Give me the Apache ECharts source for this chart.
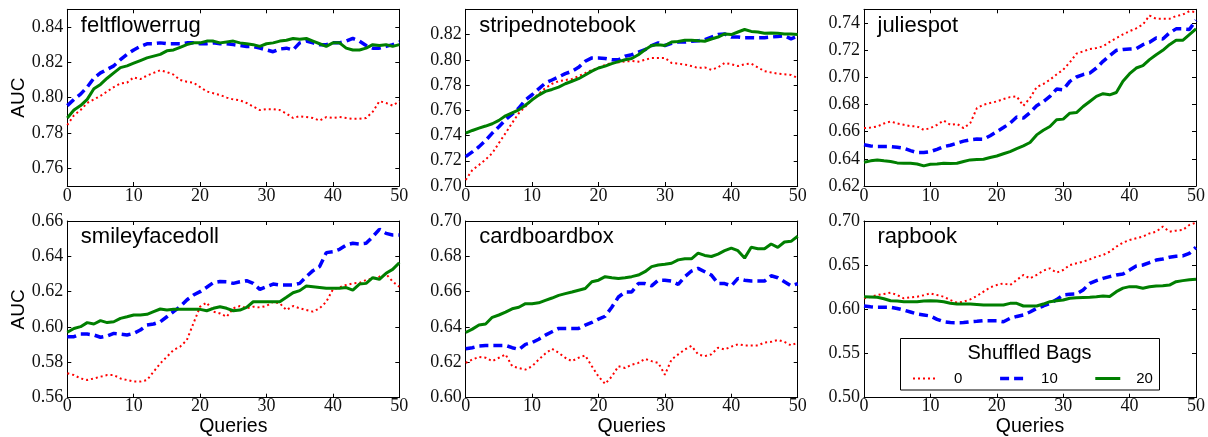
<!DOCTYPE html>
<html>
<head>
<meta charset="utf-8">
<script src="https://cdn.jsdelivr.net/npm/echarts@6/dist/echarts.min.js"></script>
<style>
html,body{margin:0;padding:0;background:#fff;}
#chart{width:1208px;height:437px;}
</style>
</head>
<body>
<div id="chart"></div>
<script>
// ---------------- data ----------------
const queries = [0,1,2,3,4,5,6,7,8,9,10,11,12,13,14,15,16,17,18,19,20,21,22,23,24,25,26,27,28,29,30,31,32,33,34,35,36,37,38,39,40,41,42,43,44,45,46,47,48,49,50];
const xTicks = [0,10,20,30,40,50];
const seriesNames = ['0','10','20'];
const panelNames = ['feltflowerrug','stripednotebook','juliespot','smileyfacedoll','cardboardbox','rapbook'];
const yMins = [0.75,0.70,0.62,0.56,0.60,0.50];
const yMaxs = [0.85,0.84,0.75,0.66,0.70,0.70];
const yTicks = [
  [0.76,0.78,0.80,0.82,0.84],
  [0.70,0.72,0.74,0.76,0.78,0.80,0.82],
  [0.62,0.64,0.66,0.68,0.70,0.72,0.74],
  [0.56,0.58,0.60,0.62,0.64,0.66],
  [0.60,0.62,0.64,0.66,0.68,0.70],
  [0.50,0.55,0.60,0.65,0.70]
];
const yAxisTitle = 'AUC';
const xAxisTitle = 'Queries';
const legendTitle = 'Shuffled Bags';

const feltflowerrug0 = [.7845,.790,.793,.797,.799,.801,.8035,.806,.808,.8085,.8115,.8105,.8125,.814,.8155,.8145,.813,.810,.809,.8085,.806,.8035,.8025,.8015,.800,.799,.7985,.797,.795,.793,.7935,.7935,.793,.791,.7885,.7895,.789,.7885,.787,.789,.7885,.789,.7885,.788,.788,.7885,.792,.798,.797,.7955,.798];
const feltflowerrug10 = [.7955,.799,.802,.806,.811,.814,.816,.818,.8215,.8245,.827,.829,.8305,.8305,.831,.8305,.8305,.8305,.831,.831,.8305,.8305,.831,.8305,.8305,.830,.8295,.829,.829,.828,.827,.826,.8275,.828,.827,.831,.832,.831,.830,.830,.831,.831,.832,.8335,.832,.8295,.828,.828,.829,.830,.8315];
const feltflowerrug20 = [.7885,.793,.7955,.799,.805,.8075,.811,.814,.817,.818,.8195,.821,.8225,.8235,.8245,.8265,.827,.8285,.830,.831,.831,.832,.832,.831,.8315,.832,.831,.8305,.830,.829,.8305,.831,.832,.8325,.8335,.833,.8335,.832,.8305,.829,.831,.831,.828,.827,.827,.828,.830,.8295,.830,.829,.830];

const stripednotebook0 = [.7048,.7127,.7167,.721,.726,.734,.7419,.750,.7577,.763,.7683,.773,.7776,.781,.783,.784,.7848,.787,.7895,.792,.7935,.796,.7975,.798,.7988,.799,.7985,.800,.8015,.8015,.8015,.7975,.797,.7962,.795,.7935,.794,.792,.794,.7975,.7965,.795,.7965,.797,.794,.791,.790,.789,.7885,.788,.7856];
const stripednotebook10 = [.7233,.727,.7311,.736,.7419,.747,.7525,.757,.7617,.7683,.7723,.777,.7816,.784,.7864,.789,.7909,.794,.7988,.8015,.8015,.801,.800,.800,.8028,.804,.806,.808,.8113,.8134,.8113,.813,.814,.814,.8147,.815,.816,.818,.820,.8205,.818,.818,.8174,.8175,.8174,.8175,.818,.8185,.819,.8166,.8187];
const stripednotebook20 = [.7419,.744,.7458,.7475,.7493,.752,.7556,.758,.7604,.764,.7683,.772,.775,.7765,.7784,.781,.783,.785,.788,.791,.7935,.795,.797,.7985,.800,.801,.804,.808,.8113,.812,.8113,.814,.8145,.8155,.8155,.815,.8147,.8165,.818,.8205,.820,.822,.824,.8225,.822,.821,.8213,.821,.8205,.8205,.820];

const juliespot0 = [.6626,.663,.6638,.666,.6675,.666,.665,.664,.6638,.6613,.6626,.665,.6682,.665,.6657,.6626,.6662,.6773,.6798,.681,.6822,.684,.6854,.6859,.679,.6847,.6928,.695,.6982,.702,.7056,.711,.7174,.719,.7208,.7215,.7228,.726,.7289,.7315,.7339,.736,.7388,.7454,.743,.743,.743,.745,.7461,.7486,.7479];
const juliespot10 = [.6503,.6495,.649,.649,.649,.6485,.6478,.646,.6446,.6446,.6453,.647,.649,.650,.6515,.653,.654,.6545,.6544,.657,.660,.663,.6662,.6707,.670,.674,.679,.682,.6859,.6913,.6908,.697,.7002,.702,.7031,.7068,.7117,.7159,.7198,.7205,.7208,.721,.724,.7257,.7289,.7282,.7326,.7356,.7356,.7351,.742];
const juliespot20 = [.6375,.6385,.6392,.6385,.638,.637,.6367,.6368,.6362,.6348,.636,.6362,.6367,.6365,.6367,.638,.6392,.6395,.6397,.641,.6421,.6437,.6453,.6475,.6495,.652,.6576,.661,.6638,.6687,.6692,.6736,.674,.6785,.6822,.6859,.6879,.6871,.6888,.697,.7026,.7068,.7085,.713,.7166,.7198,.724,.7272,.7272,.7314,.7356];

const smileyfacedoll0 = [.5738,.5728,.5709,.570,.5709,.5719,.5728,.5728,.5709,.570,.5691,.5691,.570,.5747,.5794,.5832,.587,.5889,.5926,.6021,.6115,.6138,.6087,.6077,.6058,.6106,.6119,.6106,.6115,.6111,.6119,.6143,.6134,.6096,.6119,.6106,.6096,.6087,.6106,.6143,.6213,.6225,.6238,.6247,.625,.6266,.6275,.6285,.630,.6257,.6228];
const smileyfacedoll10 = [.5945,.5945,.596,.596,.5955,.5942,.5949,.5964,.596,.5955,.5964,.5983,.6011,.6017,.603,.6058,.6087,.6115,.6153,.6181,.620,.6225,.6251,.6258,.6256,.6247,.6256,.6262,.6247,.6213,.6228,.6243,.6238,.6238,.6238,.6247,.6285,.6319,.6342,.6421,.6426,.644,.6464,.6474,.647,.6474,.6511,.6553,.653,.6521,.6521];
const smileyfacedoll20 = [.597,.5992,.6002,.6025,.6017,.6036,.6025,.603,.6049,.6058,.6068,.6068,.6072,.6087,.6102,.6096,.610,.610,.610,.610,.610,.6092,.6106,.6115,.6106,.6092,.6096,.6111,.6143,.6143,.6143,.6143,.6143,.6168,.6194,.6206,.6232,.6228,.6224,.6219,.6219,.6219,.6223,.6209,.6243,.6247,.6279,.627,.6304,.6326,.6364];

const cardboardbox0 = [.6197,.6216,.6231,.6226,.6207,.6226,.6245,.6178,.6168,.6159,.6178,.6216,.625,.6277,.6254,.6226,.6207,.6226,.6239,.6178,.612,.6078,.612,.6178,.6168,.6187,.6197,.622,.6207,.6197,.613,.6216,.6245,.6273,.6293,.6245,.6235,.6245,.6283,.6273,.6289,.6302,.6296,.6296,.6296,.6312,.6316,.6327,.6316,.6296,.6312];
const cardboardbox10 = [.6277,.6283,.6293,.6296,.6296,.6296,.6296,.6283,.6273,.6302,.6312,.6331,.6354,.6373,.6392,.6392,.6392,.6392,.6411,.6426,.6445,.6461,.6512,.657,.6598,.6598,.6646,.6646,.6633,.6665,.6665,.666,.6641,.6685,.6717,.6732,.6713,.6694,.6646,.6646,.6633,.6675,.6665,.666,.666,.666,.669,.6679,.6656,.6633,.6646];
const cardboardbox20 = [.6369,.6388,.6411,.6417,.6455,.6468,.6484,.6503,.6512,.6532,.6532,.6537,.6551,.6564,.6579,.6589,.6598,.6608,.6618,.6656,.6665,.6685,.6679,.6675,.6679,.6685,.6694,.6713,.6742,.6751,.6755,.6761,.678,.6786,.6786,.6818,.6805,.6799,.6813,.6832,.6847,.6832,.679,.6851,.6843,.6843,.687,.6851,.6881,.6885,.6914];

const rapbook0 = [.6125,.614,.6162,.6174,.6189,.6162,.6125,.6136,.6143,.616,.6181,.6162,.6143,.6106,.6075,.6087,.6113,.6151,.620,.6249,.6275,.6294,.6275,.6332,.6389,.6351,.6389,.6438,.6464,.6415,.6445,.6502,.6521,.654,.6566,.6596,.6615,.6653,.6709,.6755,.6785,.6804,.6823,.686,.6879,.6936,.6879,.6891,.6898,.6955,.6981];
const rapbook10 = [.6038,.603,.6023,.6023,.6023,.601,.5992,.597,.5947,.5936,.5925,.5887,.586,.585,.5849,.585,.586,.5865,.5872,.5872,.5872,.586,.5898,.592,.5936,.597,.6011,.6038,.6068,.611,.6162,.617,.6174,.6219,.6294,.6325,.6351,.637,.6389,.640,.6445,.6491,.6502,.653,.6558,.657,.6589,.660,.6604,.6634,.6702];
const rapbook20 = [.6143,.614,.6136,.612,.6098,.6095,.6087,.6087,.6087,.6095,.6098,.6095,.6087,.607,.606,.606,.606,.6055,.6049,.6049,.6049,.6049,.6068,.6068,.6038,.6038,.6038,.606,.6087,.6098,.6106,.6125,.6132,.6134,.6136,.6143,.6151,.6145,.620,.624,.6257,.6255,.6238,.6255,.6264,.6268,.6275,.6313,.6325,.6335,.634];

const panelSeries = [
  [feltflowerrug0, feltflowerrug10, feltflowerrug20],
  [stripednotebook0, stripednotebook10, stripednotebook20],
  [juliespot0, juliespot10, juliespot20],
  [smileyfacedoll0, smileyfacedoll10, smileyfacedoll20],
  [cardboardbox0, cardboardbox10, cardboardbox20],
  [rapbook0, rapbook10, rapbook20]
];

// ---------------- layout & style ----------------
const gridLefts = [67.3, 465.7, 864];
const gridTops = [9.3, 221];
const gridW = 332;
const gridH = 176.7;
const serifFont = 'Liberation Serif';
const sansFont = 'Liberation Sans';
const lineStyles = [
  {color:'#ff0000', width:2, type:[2,3]},
  {color:'#0000ff', width:3.5, type:[9,5]},
  {color:'#007f00', width:3, type:'solid'}
];

const grids = [], xAxes = [], yAxes = [], series = [], graphics = [];
for (let p = 0; p < 6; p++) {
  const row = Math.floor(p / 3), col = p % 3;
  grids.push({left: gridLefts[col], top: gridTops[row], width: gridW, height: gridH, outerBoundsMode: 'none', containLabel: false});
  const baseAxisLine = {show: true, onZero: false, lineStyle: {color: '#000', width: 1}};
  const tickStyle = {color: '#000', width: 1};
  xAxes.push({
    gridIndex: p, type: 'value', position: 'bottom', min: 0, max: 50, interval: 10,
    axisLine: baseAxisLine,
    axisTick: {show: true, inside: true, length: 4, lineStyle: tickStyle, customValues: xTicks},
    axisLabel: {show: true, margin: row === 0 ? 1 : 0, fontFamily: serifFont, fontSize: 18, color: '#111', customValues: xTicks},
    splitLine: {show: false},
    name: row === 1 ? xAxisTitle : '', nameLocation: 'middle', nameGap: 13,
    nameTextStyle: {fontFamily: sansFont, fontSize: 19.5, color: '#000'}
  });
  xAxes.push({
    gridIndex: p, type: 'value', position: 'top', min: 0, max: 50, interval: 10,
    axisLine: baseAxisLine,
    axisTick: {show: true, inside: true, length: 4, lineStyle: tickStyle, customValues: xTicks},
    axisLabel: {show: false},
    splitLine: {show: false}
  });
  yAxes.push({
    gridIndex: p, type: 'value', position: 'left', min: yMins[p], max: yMaxs[p],
    axisLine: baseAxisLine,
    axisTick: {show: true, inside: true, length: 4, lineStyle: tickStyle, customValues: yTicks[p]},
    axisLabel: {show: true, margin: 4, fontFamily: serifFont, fontSize: 18, color: '#111', customValues: yTicks[p],
      formatter: v => Number(v).toFixed(2)},
    splitLine: {show: false},
    name: col === 0 ? yAxisTitle : '', nameLocation: 'middle', nameGap: 38, nameRotate: 90,
    nameTextStyle: {fontFamily: sansFont, fontSize: 19, color: '#000'}
  });
  yAxes.push({
    gridIndex: p, type: 'value', position: 'right', min: yMins[p], max: yMaxs[p],
    axisLine: baseAxisLine,
    axisTick: {show: true, inside: true, length: 4, lineStyle: tickStyle, customValues: yTicks[p]},
    axisLabel: {show: false},
    splitLine: {show: false}
  });
  for (let k = 0; k < 3; k++) {
    const vals = panelSeries[p][k];
    series.push({
      type: 'line', name: seriesNames[k],
      xAxisIndex: 2 * p, yAxisIndex: 2 * p,
      data: queries.map((q, i) => [q, vals[i]]),
      symbol: 'none', showSymbol: false, smooth: false, clip: true,
      lineStyle: lineStyles[k], itemStyle: {color: lineStyles[k].color},
      z: 2 + k, animation: false
    });
  }
  graphics.push({
    type: 'text', x: gridLefts[col] + 13.5, y: gridTops[row] + 16.3, z: 30,
    style: {text: panelNames[p], font: '22px "Liberation Sans"', fill: '#000', verticalAlign: 'middle', align: 'left'}
  });
}

// legend frame and title
graphics.push({
  type: 'rect', z: 40,
  shape: {x: 900.5, y: 338.5, width: 259, height: 51.5},
  style: {fill: '#fff', stroke: '#000', lineWidth: 1}
});
graphics.push({
  type: 'text', z: 41, x: 1029.5, y: 353.3,
  style: {text: legendTitle, font: '20px "Liberation Sans"', fill: '#000', align: 'center', verticalAlign: 'middle'}
});

const option = {
  animation: false,
  backgroundColor: '#fff',
  grid: grids,
  xAxis: xAxes,
  yAxis: yAxes,
  series: series,
  graphic: graphics,
  legend: {
    data: seriesNames.map((n, k) => ({name: n, lineStyle: {width: lineStyles[k].width}})),
    left: 912, top: 371, orient: 'horizontal', padding: 0,
    itemStyle: {opacity: 0},
    itemWidth: 25, itemHeight: 14, itemGap: 36, selectedMode: false, z: 50,
    textStyle: {fontFamily: sansFont, fontSize: 15, color: '#000', padding: [0, 0, 0, 11]}
  }
};

const chart = echarts.init(document.getElementById('chart'), null, {renderer: 'canvas'});
chart.setOption(option);
</script>
</body>
</html>
